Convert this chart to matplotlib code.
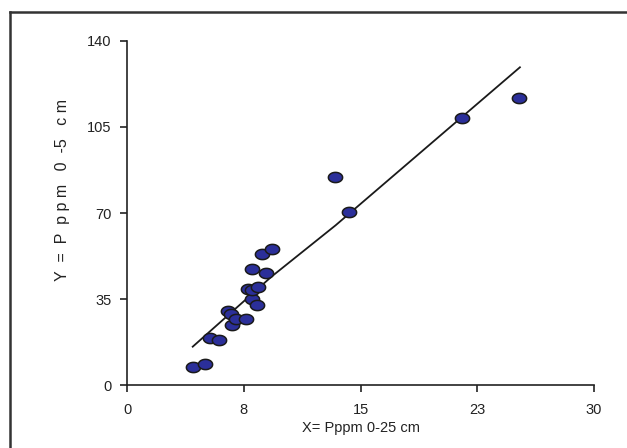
import numpy as np
import matplotlib
matplotlib.use('Agg')
import matplotlib.pyplot as plt
from matplotlib.path import Path
from matplotlib.lines import Line2D

# data
x_pts = [4.22, 5.01, 5.35, 5.93, 6.51, 6.68, 6.76, 7.0, 7.64, 7.79, 8.03, 8.05,
         8.33, 8.43, 8.03, 8.93, 8.65, 9.29, 13.36, 14.28, 21.54, 25.2]
y_pts = [7.3, 8.7, 19.0, 18.2, 30.0, 28.9, 24.5, 27.0, 27.0, 39.2, 35.0, 38.7,
         32.7, 40.0, 47.3, 45.6, 53.2, 55.4, 84.5, 70.5, 108.5, 116.7]
x_fit = [4.22, 9.3, 13.4, 25.24]
y_fit = [15.6, 44.2, 65.0, 129.3]

x_ticks = [0, 7.5, 15, 22.5, 30]
x_ticklabels = ['0', '8', '15', '23', '30']
y_ticks = [0, 35, 70, 105, 140]

plt.rcParams['font.family'] = ['Liberation Sans', 'DejaVu Sans']

fig = plt.figure(figsize=(6.27, 4.48), dpi=100)
ax = fig.add_axes([0.2026, 0.1406, 0.7448, 0.7679])

# ellipse shaped marker
t = np.linspace(0, 2 * np.pi, 60)
ell = Path(np.column_stack([np.cos(t), 0.72 * np.sin(t)]), closed=True)

ax.plot(x_fit, y_fit, color='#1a1a1a', lw=1.3, zorder=2)
ax.scatter(x_pts, y_pts, marker=ell, s=105, facecolor='#2B2F9A',
           edgecolor='#1a1a1a', linewidth=1.1, zorder=3)

ax.set_xlim(0, 30)
ax.set_ylim(0, 140)
ax.set_xticks(x_ticks)
ax.set_xticklabels(x_ticklabels)
ax.set_yticks(y_ticks)

for s in ['top', 'right']:
    ax.spines[s].set_visible(False)
for s in ['left', 'bottom']:
    ax.spines[s].set_linewidth(1.2)
    ax.spines[s].set_color('#222222')
ax.tick_params(direction='out', length=5, width=1.2, color='#222222',
               labelsize=10.5, labelcolor='#222222')
ax.tick_params(axis='x', pad=8)
ax.tick_params(axis='y', pad=6)

ax.set_xlabel('X= Pppm 0-25 cm', fontsize=10.5, color='#222222', labelpad=3)
fig.text(0.099, 0.576, 'Y  =  P  p p m   0  -5   c m', rotation=90,
         fontsize=11.5, color='#222222', ha='center', va='center')

# frame around the figure (top and left edges visible)
fig.add_artist(Line2D([0.016, 1.0], [0.973, 0.973], transform=fig.transFigure,
                      color='#333333', lw=1.8))
fig.add_artist(Line2D([0.016, 0.016], [0.0, 0.973], transform=fig.transFigure,
                      color='#333333', lw=1.8))

fig.savefig('out.png', dpi=100)
